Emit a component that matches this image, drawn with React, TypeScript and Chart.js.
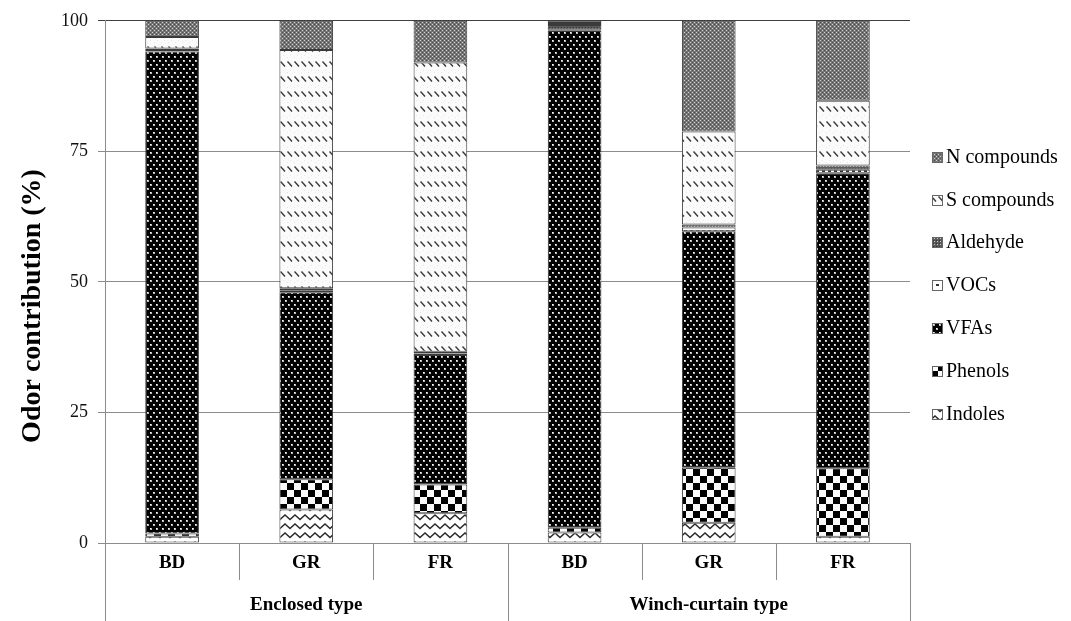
import React, { useEffect, useRef } from "react";
import { Chart, registerables } from "chart.js";

Chart.register(...registerables);

const categories = ["BD", "GR", "FR", "BD", "GR", "FR"];
const groups = ["Enclosed type", "Winch-curtain type"];
const yTicks = [0, 25, 50, 75, 100];

// Odor contribution (%) per compound class, bottom to top of each stack
const indoles = [1.2, 6.4, 5.7, 2.0, 3.9, 1.2];
const phenols = [0.6, 5.8, 5.5, 0.9, 10.5, 13.1];
const vfas = [92.3, 35.8, 24.8, 95.3, 45.3, 56.5];
const vocs = [0.3, 0.4, 0.3, 0.2, 0.7, 0.7];
const aldehyde = [0.3, 0.4, 0.3, 0.8, 0.6, 0.8];
const sCompounds = [2.2, 45.6, 55.4, 0.4, 17.8, 12.4];
const nCompounds = [3.1, 5.6, 8.0, 0.4, 21.2, 15.3];

const seriesNames = ["Indoles", "Phenols", "VFAs", "VOCs", "Aldehyde", "S compounds", "N compounds"];
const seriesValues = [indoles, phenols, vfas, vocs, aldehyde, sCompounds, nCompounds];

const FONT = "'Liberation Serif', 'Times New Roman', serif";

function tile(w: number, h: number, draw: (g: CanvasRenderingContext2D) => void): CanvasPattern {
  const c = document.createElement("canvas");
  c.width = w;
  c.height = h;
  const g = c.getContext("2d")!;
  draw(g);
  return g.createPattern(c, "repeat")!;
}

function makePatterns(): CanvasPattern[] {
  const wave = tile(10, 9, (g) => {
    g.fillStyle = "#fff";
    g.fillRect(0, 0, 10, 9);
    g.strokeStyle = "#2a2a2a";
    g.lineWidth = 1.4;
    g.beginPath();
    g.moveTo(-2.5, 4);
    g.lineTo(0, 6.5);
    g.lineTo(5, 2);
    g.lineTo(10, 6.5);
    g.lineTo(12.5, 4);
    g.stroke();
  });
  const checker = tile(14, 14, (g) => {
    g.fillStyle = "#fafafa";
    g.fillRect(0, 0, 14, 14);
    g.fillStyle = "#000";
    g.fillRect(0, 0, 7, 7);
    g.fillRect(7, 7, 7, 7);
  });
  const dots = tile(6, 8, (g) => {
    g.fillStyle = "#000";
    g.fillRect(0, 0, 6, 8);
    g.fillStyle = "#b8b8b8";
    g.fillRect(0, 0, 2, 2);
    g.fillRect(3, 4, 2, 2);
    g.fillStyle = "#fff";
    g.fillRect(0, 0, 1, 1);
    g.fillRect(3, 4, 1, 1);
  });
  const dashes = tile(6, 6, (g) => {
    g.fillStyle = "#fff";
    g.fillRect(0, 0, 6, 6);
    g.fillStyle = "#333";
    g.fillRect(0, 2, 3, 2);
  });
  const cross = tile(3, 3, (g) => {
    g.fillStyle = "#5a5a5a";
    g.fillRect(0, 0, 3, 3);
    g.fillStyle = "#c8c8c8";
    g.fillRect(1, 1, 1, 1);
    g.fillStyle = "#333";
    g.fillRect(0, 0, 1, 1);
  });
  const slash = tile(7, 15, (g) => {
    g.fillStyle = "#fbfbfb";
    g.fillRect(0, 0, 7, 15);
    g.fillStyle = "#e6e6e6";
    g.fillRect(3, 10, 1, 1);
    g.fillRect(0, 12, 1, 1);
    g.strokeStyle = "#3a3a3a";
    g.lineWidth = 1.4;
    g.beginPath();
    g.moveTo(0.5, 1.5);
    g.lineTo(5, 6.5);
    g.stroke();
  });
  const grey = tile(4, 4, (g) => {
    g.fillStyle = "#767676";
    g.fillRect(0, 0, 4, 4);
    g.fillStyle = "#cfcfcf";
    g.fillRect(0, 0, 1, 1);
    g.fillRect(2, 2, 1, 1);
    g.fillStyle = "#4a4a4a";
    g.fillRect(2, 0, 1, 1);
    g.fillRect(0, 2, 1, 1);
  });
  return [wave, checker, dots, dashes, cross, slash, grey];
}

export default function App() {
  const canvasRef = useRef<HTMLCanvasElement | null>(null);

  useEffect(() => {
    const canvas = canvasRef.current;
    if (!canvas) return;
    const patterns = makePatterns();

    const axisLabels = {
      id: "axisLabels",
      afterDraw(chart: any) {
        const { ctx, chartArea } = chart;
        const xs = chart.scales.x;
        const left = chartArea.left;
        const right = chartArea.right;
        const bottom = chartArea.bottom;
        const step = (right - left) / categories.length;
        ctx.save();
        // category separators below the axis
        ctx.strokeStyle = "#8c8c8c";
        ctx.lineWidth = 1;
        for (let i = 0; i <= categories.length; i++) {
          const x = Math.round(left + i * step) + 0.5;
          const full = i % 3 === 0;
          ctx.beginPath();
          ctx.moveTo(x, bottom);
          ctx.lineTo(x, full ? 621 : 580);
          ctx.stroke();
        }
        ctx.fillStyle = "#000";
        ctx.textAlign = "center";
        ctx.textBaseline = "middle";
        ctx.font = `bold 19px ${FONT}`;
        categories.forEach((c, i) => {
          ctx.fillText(c, xs.getPixelForValue(i), 563);
        });
        ctx.font = `bold 19px ${FONT}`;
        groups.forEach((g, gi) => {
          const cx = (xs.getPixelForValue(gi * 3) + xs.getPixelForValue(gi * 3 + 2)) / 2;
          ctx.fillText(g, cx, 605);
        });
        // y-axis title
        ctx.translate(33, 306);
        ctx.rotate(-Math.PI / 2);
        ctx.font = `bold 28px ${FONT}`;
        ctx.fillText("Odor contribution (%)", 0, 0);
        ctx.restore();

        // legend, top entry is the last series
        ctx.save();
        ctx.font = `20px ${FONT}`;
        ctx.textAlign = "left";
        ctx.textBaseline = "middle";
        const n = seriesNames.length;
        for (let k = 0; k < n; k++) {
          const si = n - 1 - k;
          const y = Math.round(chartArea.top + 136 + k * 42.8);
          ctx.fillStyle = patterns[si];
          ctx.fillRect(933, y - 4, 9, 9);
          ctx.strokeStyle = "#666";
          ctx.strokeRect(932.5, y - 4.5, 10, 10);
          ctx.fillStyle = "#000";
          ctx.fillText(seriesNames[si], 946, y + 1);
        }
        ctx.restore();
      },
    };

    const chart = new Chart(canvas, {
      type: "bar",
      data: {
        labels: categories,
        datasets: seriesNames.map((name, i) => ({
          label: name,
          data: seriesValues[i],
          backgroundColor: patterns[i],
          borderColor: "#3a3a3a",
          borderWidth: 1,
          borderSkipped: false,
          barPercentage: 0.4,
          categoryPercentage: 1,
        })),
      },
      options: {
        responsive: false,
        animation: false,
        devicePixelRatio: 1,
        layout: { padding: { top: 19, right: 161, bottom: 0, left: 0 } },
        plugins: { legend: { display: false }, tooltip: { enabled: false } },
        scales: {
          x: {
            stacked: true,
            grid: { display: false },
            border: { display: true, color: "#8c8c8c" },
            ticks: { display: false },
            afterFit: (s: any) => {
              s.height = 78;
            },
          },
          y: {
            stacked: true,
            min: 0,
            max: 100,
            afterBuildTicks: (s: any) => {
              s.ticks = yTicks.map((v) => ({ value: v }));
            },
            ticks: {
              font: { family: FONT, size: 18 },
              color: "#111",
              padding: 10,
            },
            grid: {
              color: (c: any) => (c.tick && c.tick.value === 100 ? "#404040" : "#8c8c8c"),
              tickLength: 7,
            },
            border: { color: "#8c8c8c" },
            afterFit: (s: any) => {
              s.width = 105;
            },
          },
        },
      },
      plugins: [axisLabels],
    });

    return () => chart.destroy();
  }, []);

  return (
    <div style={{ position: "absolute", left: 0, top: 0, width: 1071, height: 621 }}>
      <canvas ref={canvasRef} width={1071} height={621} />
    </div>
  );
}
